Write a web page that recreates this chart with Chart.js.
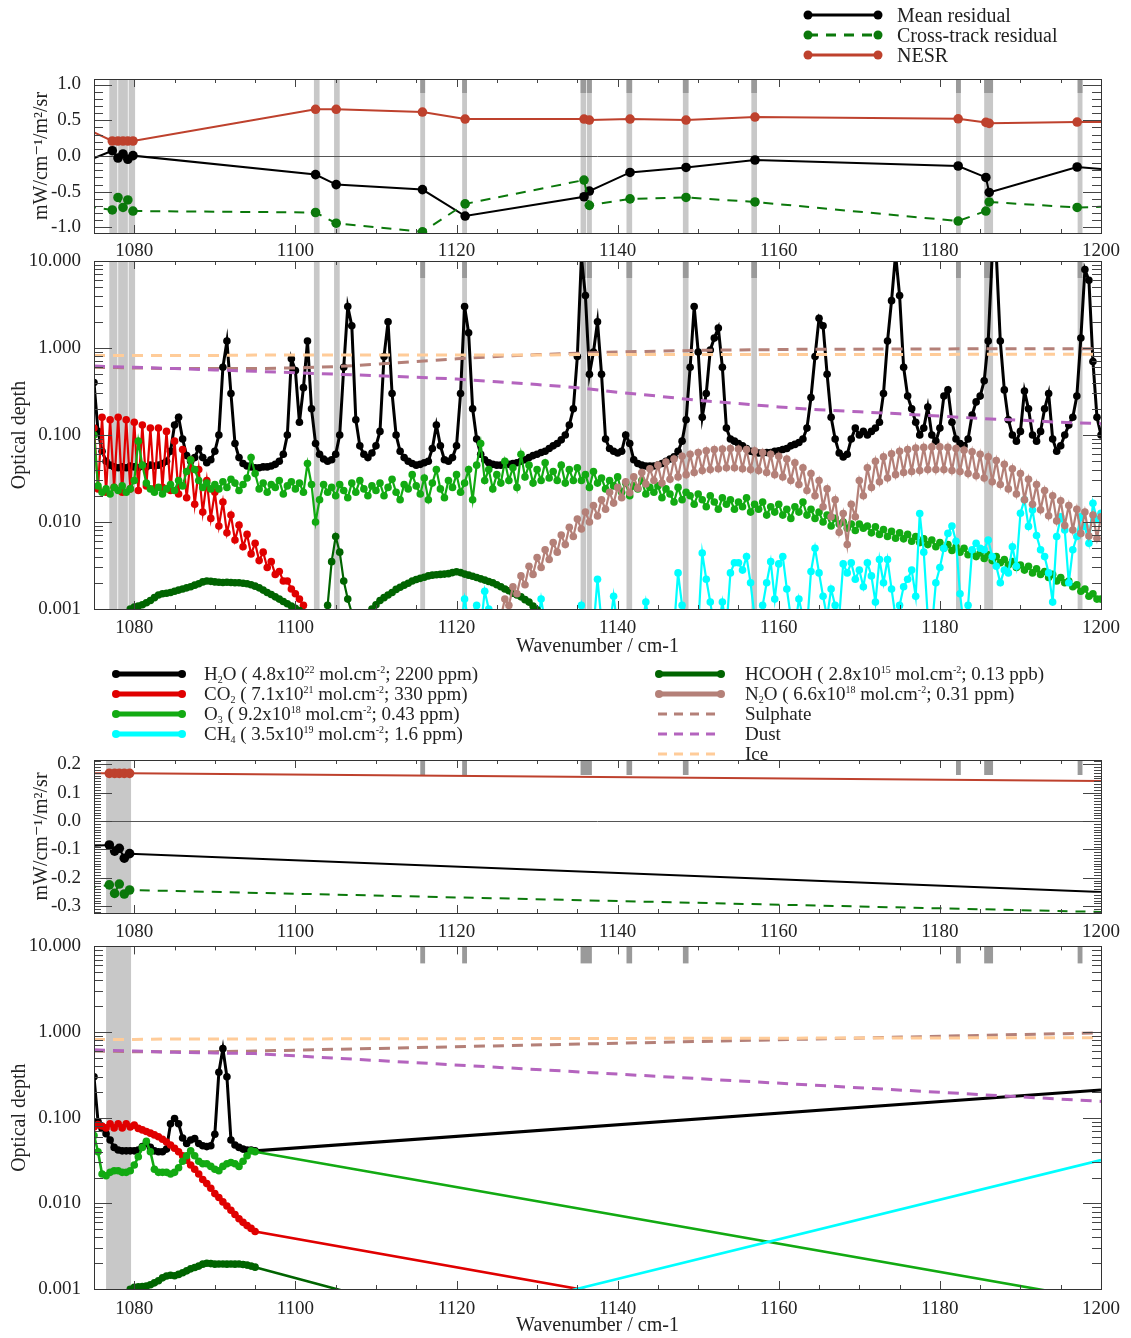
<!DOCTYPE html>
<html>
<head>
<meta charset="utf-8">
<script src="https://cdn.jsdelivr.net/npm/chart.js@4.4.1/dist/chart.umd.min.js"></script>
<style>
  html, body { margin: 0; padding: 0; background: #fff; }
  #page { position: relative; width: 1131px; height: 1338px; overflow: hidden;
          font-family: 'Liberation Serif', 'DejaVu Serif', serif; color: #222; }
  #page canvas { position: absolute; left: 0; }
  svg.keys { position: absolute; left: 0; top: 0; }
  .lg { position: absolute; white-space: nowrap; }
  .lg.big { font-size: 20px; line-height: 22px; }
  .lg.mid { font-size: 19px; line-height: 20px; }
  .lg sub { font-size: 10px; vertical-align: -3px; line-height: 0; }
  .lg sup { font-size: 10px; vertical-align: 7px; line-height: 0; }
</style>
</head>
<body>
<div id="page">
  <canvas id="resHigh" width="1131" height="262" style="top:0px"></canvas>
  <canvas id="odHigh" width="1131" height="420" style="top:240px"></canvas>
  <canvas id="resLow" width="1131" height="210" style="top:740px"></canvas>
  <canvas id="odLow" width="1131" height="408" style="top:930px"></canvas>

  <svg class="keys" width="1131" height="780">
    <!-- residual legend -->
    <line x1="808" y1="15" x2="878" y2="15" stroke="#000" stroke-width="3"/>
    <circle cx="808" cy="15" r="4.5" fill="#000"/><circle cx="878" cy="15" r="4.5" fill="#000"/>
    <line x1="808" y1="35" x2="878" y2="35" stroke="#0b780b" stroke-width="3" stroke-dasharray="10 8"/>
    <circle cx="808" cy="35" r="4.5" fill="#0b780b"/><circle cx="878" cy="35" r="4.5" fill="#0b780b"/>
    <line x1="808" y1="55" x2="878" y2="55" stroke="#be412d" stroke-width="3"/>
    <circle cx="808" cy="55" r="4.5" fill="#be412d"/><circle cx="878" cy="55" r="4.5" fill="#be412d"/>
    <!-- absorber legend -->
    <g stroke-width="5" stroke-linecap="round">
      <line x1="116" y1="674" x2="182" y2="674" stroke="#000"/>
      <line x1="116" y1="694" x2="182" y2="694" stroke="#e00000"/>
      <line x1="116" y1="714" x2="182" y2="714" stroke="#12aa12"/>
      <line x1="116" y1="734" x2="182" y2="734" stroke="#00ffff"/>
      <line x1="659" y1="674" x2="721" y2="674" stroke="#006400"/>
      <line x1="659" y1="694" x2="721" y2="694" stroke="#b48078"/>
    </g>
    <g>
      <circle cx="116" cy="674" r="4" fill="#000"/><circle cx="182" cy="674" r="4" fill="#000"/>
      <circle cx="116" cy="694" r="4" fill="#e00000"/><circle cx="182" cy="694" r="4" fill="#e00000"/>
      <circle cx="116" cy="714" r="4" fill="#12aa12"/><circle cx="182" cy="714" r="4" fill="#12aa12"/>
      <circle cx="116" cy="734" r="4" fill="#00ffff"/><circle cx="182" cy="734" r="4" fill="#00ffff"/>
      <circle cx="659" cy="674" r="4" fill="#006400"/><circle cx="721" cy="674" r="4" fill="#006400"/>
      <circle cx="659" cy="694" r="4" fill="#b48078"/><circle cx="721" cy="694" r="4" fill="#b48078"/>
    </g>
    <g stroke-width="3" stroke-dasharray="9 7">
      <line x1="658" y1="714" x2="722" y2="714" stroke="#b48078"/>
      <line x1="658" y1="734" x2="722" y2="734" stroke="#b464be"/>
      <line x1="658" y1="754" x2="722" y2="754" stroke="#ffcc99"/>
    </g>
  </svg>

  <div class="lg big" style="left:897px;top:4px">Mean residual</div>
  <div class="lg big" style="left:897px;top:24px">Cross-track residual</div>
  <div class="lg big" style="left:897px;top:44px">NESR</div>

  <div class="lg mid" style="left:204px;top:664px">H<sub>2</sub>O ( 4.8x10<sup>22</sup> mol.cm<sup>-2</sup>; 2200 ppm)</div>
  <div class="lg mid" style="left:204px;top:684px">CO<sub>2</sub> ( 7.1x10<sup>21</sup> mol.cm<sup>-2</sup>; 330 ppm)</div>
  <div class="lg mid" style="left:204px;top:704px">O<sub>3</sub> ( 9.2x10<sup>18</sup> mol.cm<sup>-2</sup>; 0.43 ppm)</div>
  <div class="lg mid" style="left:204px;top:724px">CH<sub>4</sub> ( 3.5x10<sup>19</sup> mol.cm<sup>-2</sup>; 1.6 ppm)</div>
  <div class="lg mid" style="left:745px;top:664px">HCOOH ( 2.8x10<sup>15</sup> mol.cm<sup>-2</sup>; 0.13 ppb)</div>
  <div class="lg mid" style="left:745px;top:684px">N<sub>2</sub>O ( 6.6x10<sup>18</sup> mol.cm<sup>-2</sup>; 0.31 ppm)</div>
  <div class="lg mid" style="left:745px;top:704px">Sulphate</div>
  <div class="lg mid" style="left:745px;top:724px">Dust</div>
  <div class="lg mid" style="left:745px;top:744px">Ice</div>
</div>

<script>
// ---------------- axis definitions ----------------
const WN_MIN = 1075, WN_MAX = 1200;
const STEP = 0.5;                       // spectral sampling of the optical-depth series (cm-1)
const X_LABELS = [1080, 1100, 1120, 1140, 1160, 1180, 1200];
const RES_LABELS_HIGH = [-1.0, -0.5, 0.0, 0.5, 1.0];
const RES_LABELS_LOW = [-0.3, -0.2, -0.1, 0.0, 0.1, 0.2];
const DEPTH_LABELS = [0.001, 0.01, 0.1, 1, 10];

// ---------------- residual panel, full channel set ----------------
const resWn = [1074.0, 1077.27, 1077.98, 1078.6, 1079.2, 1079.84, 1102.5, 1105.06, 1115.77, 1121.07,
               1135.83, 1136.49, 1141.54, 1148.49, 1157.05, 1182.27, 1185.71, 1186.12, 1197.04, 1201.0];
const resMean = [-0.076, 0.074, -0.028, 0.028, -0.046, 0.005, -0.26, -0.40, -0.47, -0.84,
                 -0.57, -0.49, -0.23, -0.16, -0.056, -0.14, -0.30, -0.51, -0.154, -0.19];
const resCross = [-0.70, -0.755, -0.58, -0.72, -0.615, -0.77, -0.79, -0.94, -1.06, -0.67,
                  -0.336, -0.69, -0.60, -0.58, -0.643, -0.91, -0.77, -0.643, -0.72, -0.707];
const resNesr = [0.383, 0.21, 0.21, 0.21, 0.21, 0.21, 0.653, 0.653, 0.615, 0.517,
                 0.517, 0.503, 0.517, 0.503, 0.545, 0.52, 0.47, 0.457, 0.475, 0.475];

// ---------------- residual panel, reduced channel set ----------------
const resWnLow = [1074.0, 1076.9, 1077.56, 1078.14, 1078.76, 1079.42, 1201.0];
const resMeanLow = [-0.088, -0.0845, -0.106, -0.096, -0.131, -0.115, -0.251];
const resCrossLow = [-0.237, -0.225, -0.255, -0.222, -0.257, -0.243, -0.321];
const resNesrLow = [0.168, 0.168, 0.168, 0.168, 0.168, 0.168, 0.141];

// ---------------- optical depth, full spectrum (0.5 cm-1 grid) ----------------
const h2oStart = 1075;
const h2o = [
  0.40, 0.11, 0.065, 0.05, 0.045, 0.043, 0.042, 0.043, 0.042, 0.044,
  0.043, 0.042, 0.044, 0.043, 0.045, 0.044, 0.045, 0.047, 0.05, 0.065,
  0.13, 0.16, 0.09, 0.058, 0.05, 0.055, 0.07, 0.055, 0.048, 0.052,
  0.065, 0.10, 0.6, 1.2, 0.30, 0.08, 0.055, 0.047, 0.044, 0.043,
  0.042, 0.042, 0.043, 0.043, 0.044, 0.046, 0.050, 0.060, 0.10, 0.75,
  0.55, 0.14, 0.35, 1.2, 0.20, 0.08, 0.06, 0.053, 0.050, 0.052,
  0.060, 0.10, 0.60, 3.0, 1.8, 0.15, 0.075, 0.060, 0.055, 0.062,
  0.075, 0.11, 0.8, 2.0, 0.3, 0.10, 0.065, 0.055, 0.050, 0.047,
  0.045, 0.046, 0.048, 0.050, 0.070, 0.13, 0.075, 0.052, 0.050, 0.055,
  0.075, 0.30, 3.0, 1.5, 0.20, 0.09, 0.060, 0.052, 0.048, 0.046,
  0.045, 0.045, 0.046, 0.046, 0.047, 0.048, 0.050, 0.052, 0.055, 0.058,
  0.060, 0.063, 0.065, 0.070, 0.075, 0.080, 0.088, 0.10, 0.13, 0.20,
  0.8, 11, 4.0, 0.5, 0.9, 2.0, 0.5, 0.09, 0.07, 0.065,
  0.062, 0.065, 0.10, 0.08, 0.052, 0.047, 0.045, 0.044, 0.044, 0.044,
  0.045, 0.047, 0.050, 0.053, 0.056, 0.065, 0.085, 0.15, 0.6, 3.0,
  0.9, 0.16, 0.3, 0.95, 1.3, 1.7, 0.6, 0.12, 0.09, 0.085,
  0.08, 0.075, 0.07, 0.065, 0.063, 0.062, 0.062, 0.063, 0.063, 0.065,
  0.066, 0.068, 0.070, 0.075, 0.078, 0.082, 0.09, 0.12, 0.27, 0.8,
  2.2, 1.8, 0.5, 0.16, 0.09, 0.062, 0.056, 0.06, 0.09, 0.12,
  0.10, 0.11, 0.10, 0.11, 0.12, 0.14, 0.30, 1.2, 3.5, 12,
  4.0, 0.6, 0.28, 0.2, 0.14, 0.10, 0.12, 0.21, 0.10, 0.085,
  0.12, 0.28, 0.33, 0.14, 0.09, 0.08, 0.075, 0.09, 0.17, 0.24,
  0.28, 0.42, 1.2, 12, 12, 1.2, 0.33, 0.15, 0.10, 0.085,
  0.11, 0.32, 0.20, 0.10, 0.085, 0.11, 0.20, 0.30, 0.09, 0.065,
  0.075, 0.10, 0.13, 0.16, 0.28, 1.3, 8.0, 6.0, 0.7, 0.16,
  0.10
];

const co2Start = 1075;
const co2 = [
  0.12, 0.024, 0.16, 0.022, 0.15, 0.025, 0.16, 0.022, 0.15, 0.024,
  0.14, 0.023, 0.13, 0.026, 0.12, 0.024, 0.12, 0.025, 0.11, 0.023,
  0.085, 0.021, 0.068, 0.019, 0.052, 0.016, 0.040, 0.013, 0.030, 0.011,
  0.022, 0.0090, 0.017, 0.0075, 0.012, 0.0062, 0.0092, 0.0052, 0.0072, 0.0043,
  0.0057, 0.0036, 0.0045, 0.0030, 0.0035, 0.0025, 0.0027, 0.0021, 0.0021, 0.0017,
  0.0015, 0.0013, 0.0011
];

const o3Start = 1075;
const o3 = [
  0.10, 0.026, 0.022, 0.024, 0.021, 0.025, 0.023, 0.026, 0.022, 0.024,
  0.030, 0.085, 0.045, 0.028, 0.024, 0.022, 0.025, 0.021, 0.024, 0.027,
  0.023, 0.030, 0.026, 0.038, 0.052, 0.040, 0.030, 0.025, 0.028, 0.024,
  0.027, 0.024, 0.029, 0.025, 0.031, 0.028, 0.023, 0.027, 0.032, 0.055,
  0.036, 0.024, 0.028, 0.022, 0.027, 0.025, 0.030, 0.021, 0.026, 0.029,
  0.024, 0.028, 0.022, 0.047, 0.027, 0.010, 0.018, 0.027, 0.022, 0.025,
  0.020, 0.027, 0.023, 0.019, 0.028, 0.022, 0.030, 0.024, 0.020, 0.026,
  0.023, 0.028, 0.020, 0.025, 0.031, 0.022, 0.018, 0.027, 0.024, 0.035,
  0.026, 0.021, 0.032, 0.018, 0.028, 0.040, 0.024, 0.019, 0.030, 0.025,
  0.035, 0.022, 0.028, 0.040, 0.018, 0.045, 0.080, 0.030, 0.040, 0.024,
  0.035, 0.028, 0.050, 0.030, 0.042, 0.025, 0.060, 0.033, 0.045, 0.028,
  0.040, 0.030, 0.048, 0.032, 0.038, 0.030, 0.045, 0.028, 0.040, 0.030,
  0.042, 0.030, 0.035, 0.025, 0.038, 0.028, 0.032, 0.024, 0.030, 0.026,
  0.033, 0.022, 0.028, 0.020, 0.026, 0.024, 0.030, 0.021, 0.025, 0.022,
  0.026, 0.019, 0.024, 0.021, 0.017, 0.025, 0.018, 0.022, 0.020, 0.016,
  0.021, 0.018, 0.015, 0.020, 0.017, 0.014, 0.019, 0.016, 0.018, 0.014,
  0.017, 0.015, 0.019, 0.013, 0.016, 0.014, 0.017, 0.012, 0.015, 0.013,
  0.016, 0.012, 0.014, 0.011, 0.015, 0.013, 0.017, 0.012, 0.014, 0.011,
  0.013, 0.010, 0.012, 0.009, 0.011, 0.0095, 0.010, 0.0085, 0.0095, 0.008,
  0.0095, 0.0085, 0.009, 0.0075, 0.0088, 0.0072, 0.0082, 0.0068, 0.0078, 0.0065,
  0.0075, 0.0064, 0.0072, 0.0060, 0.0068, 0.0058, 0.0064, 0.0055, 0.0062, 0.0052,
  0.0058, 0.0050, 0.0055, 0.0047, 0.0052, 0.0045, 0.0050, 0.0042, 0.0046, 0.0040,
  0.0044, 0.0038, 0.0042, 0.0036, 0.0040, 0.0034, 0.0037, 0.0032, 0.0035, 0.0030,
  0.0032, 0.0028, 0.0031, 0.0026, 0.0029, 0.0025, 0.0027, 0.0023, 0.0025, 0.0021,
  0.0023, 0.0020, 0.0021, 0.0018, 0.0019, 0.0016, 0.0017, 0.0014, 0.0015, 0.0013,
  0.0013
];

const ch4Start = 1120;
const ch4 = [
  0.0006, 0.0006, 0.0013, 0.0007, 0.0009, 0.0011, 0.0006, 0.0016, 0.0010, 0.0006,
  0.0006, 0.0006, 0.0006, 0.0006, 0.0006, 0.0006, 0.0006, 0.0006, 0.0006, 0.0006,
  0.0006, 0.0013, 0.0007, 0.0006, 0.0006, 0.0006, 0.0006, 0.0006, 0.0006, 0.0006,
  0.0006, 0.0011, 0.0006, 0.0006, 0.0006, 0.0022, 0.0007, 0.0006, 0.0006, 0.0014,
  0.0006, 0.0006, 0.0006, 0.0006, 0.0006, 0.0006, 0.0006, 0.0012, 0.0006, 0.0006,
  0.0006, 0.0006, 0.0006, 0.0006, 0.0006, 0.0026, 0.0011, 0.0009, 0.0006, 0.0006,
  0.0006, 0.0044, 0.0022, 0.0012, 0.0006, 0.0006, 0.0012, 0.0006, 0.0026, 0.0034,
  0.0034, 0.0028, 0.0040, 0.0020, 0.0008, 0.0006, 0.0011, 0.0020, 0.0035, 0.0013,
  0.0033, 0.0040, 0.0017, 0.0008, 0.0006, 0.0013, 0.0008, 0.0006, 0.0027, 0.0050,
  0.0026, 0.0014, 0.0008, 0.0017, 0.0011, 0.0008, 0.0033, 0.0026, 0.0034, 0.0022,
  0.0028, 0.0018, 0.0034, 0.0024, 0.0012, 0.0037, 0.0020, 0.0037, 0.0017, 0.0008,
  0.0011, 0.0018, 0.0022, 0.0028, 0.0014, 0.0125, 0.0045, 0.0008, 0.0006, 0.0020,
  0.0030, 0.0050, 0.0074, 0.0090, 0.0060, 0.0015, 0.0006, 0.0011, 0.0048, 0.0057,
  0.0050, 0.0048, 0.0062, 0.0040, 0.0031, 0.0020, 0.0028, 0.0026, 0.0052, 0.0031,
  0.0126, 0.0180, 0.0089, 0.0137, 0.0070, 0.0048, 0.0040, 0.0026, 0.0012, 0.0068,
  0.0115, 0.0081, 0.0020, 0.0048, 0.0068, 0.0115, 0.0089, 0.0057, 0.0164, 0.0106,
  0.0126
];

// HCOOH is only above the plotted floor in three separate stretches
const hcoohAStart = 1079.5;
const hcoohA = [
  0.00100,
  0.00105, 0.00108, 0.00112, 0.00118, 0.00125, 0.00135, 0.00145, 0.00150, 0.00152, 0.00155,
  0.00160, 0.00165, 0.00170, 0.00175, 0.00180, 0.00188, 0.00195, 0.00205, 0.00210, 0.00208,
  0.00205, 0.00203, 0.00202, 0.00203, 0.00202, 0.00200, 0.00200, 0.00198, 0.00195, 0.00190,
  0.00183, 0.00175, 0.00165, 0.00155, 0.00147, 0.00138, 0.00130, 0.00122, 0.00115, 0.00108,
  0.00102, 0.00096
];
const hcoohBStart = 1104.0;
const hcoohB = [0.0011, 0.0035, 0.0068, 0.0045, 0.0021, 0.0013, 0.0009];
const hcoohCStart = 1109.5;
const hcoohC = [
  0.00100,
  0.00112, 0.00125, 0.00135, 0.00145, 0.00155, 0.00168, 0.00178, 0.00188, 0.00198, 0.00210,
  0.00218, 0.00225, 0.00232, 0.00240, 0.00245, 0.00248, 0.00250, 0.00252, 0.00255, 0.00262,
  0.00268, 0.00262, 0.00252, 0.00245, 0.00238, 0.00230, 0.00222, 0.00215, 0.00207, 0.00200,
  0.00190, 0.00180, 0.00170, 0.00162, 0.00152, 0.00145, 0.00138, 0.00128, 0.00120, 0.00108,
  0.00098
];

const n2oStart = 1125;
const n2o = [
  0.0009, 0.0008, 0.0013, 0.0011, 0.0018, 0.0015, 0.0024, 0.0019, 0.0031, 0.0025,
  0.0039, 0.0030, 0.0048, 0.0037, 0.0058, 0.0045, 0.0071, 0.0055, 0.0087, 0.0068,
  0.0108, 0.0083, 0.013, 0.0100, 0.0155, 0.0117, 0.018, 0.014, 0.022, 0.0165,
  0.025, 0.019, 0.029, 0.0217, 0.033, 0.0245, 0.037, 0.0273, 0.041, 0.030,
  0.045, 0.028, 0.049, 0.031, 0.053, 0.033, 0.057, 0.035, 0.060, 0.037,
  0.063, 0.039, 0.066, 0.040, 0.068, 0.041, 0.069, 0.042, 0.070, 0.042,
  0.069, 0.041, 0.068, 0.040, 0.066, 0.039, 0.063, 0.037, 0.060, 0.035,
  0.057, 0.033, 0.053, 0.030, 0.048, 0.027, 0.042, 0.023, 0.036, 0.020,
  0.030, 0.015, 0.024, 0.0115, 0.018, 0.0076, 0.0125, 0.0055, 0.016, 0.0115,
  0.030, 0.020, 0.042, 0.025, 0.050, 0.029, 0.056, 0.032, 0.061, 0.035,
  0.065, 0.037, 0.068, 0.038, 0.071, 0.039, 0.072, 0.040, 0.073, 0.040,
  0.073, 0.040, 0.072, 0.039, 0.070, 0.038, 0.067, 0.036, 0.064, 0.034,
  0.060, 0.032, 0.056, 0.029, 0.051, 0.027, 0.046, 0.024, 0.041, 0.021,
  0.036, 0.018, 0.031, 0.016, 0.027, 0.0138, 0.023, 0.0118, 0.020, 0.0103,
  0.0175, 0.0091, 0.0155, 0.0081, 0.014, 0.0074, 0.013, 0.0069, 0.012, 0.0065,
  0.0115
];

// aerosol layers, every 5 cm-1
const aerosolWn = [1075, 1080, 1085, 1090, 1095, 1100, 1105, 1110, 1115, 1120, 1125, 1130, 1135,
                   1140, 1145, 1150, 1155, 1160, 1165, 1170, 1175, 1180, 1185, 1190, 1195, 1200];
const sulphate = [0.60, 0.59, 0.58, 0.58, 0.58, 0.59, 0.61, 0.65, 0.70, 0.75, 0.80, 0.84, 0.87,
                  0.90, 0.92, 0.94, 0.95, 0.96, 0.97, 0.97, 0.975, 0.975, 0.98, 0.98, 0.98, 0.98];
const dust = [0.62, 0.60, 0.58, 0.56, 0.54, 0.52, 0.50, 0.48, 0.46, 0.44, 0.41, 0.38, 0.35,
              0.31, 0.28, 0.25, 0.23, 0.21, 0.195, 0.185, 0.175, 0.165, 0.155, 0.148, 0.14, 0.135];
const ice = [0.82, 0.82, 0.82, 0.82, 0.83, 0.83, 0.83, 0.83, 0.83, 0.83, 0.83, 0.83, 0.84,
             0.84, 0.84, 0.84, 0.84, 0.84, 0.84, 0.84, 0.84, 0.84, 0.85, 0.85, 0.85, 0.85];

// ---------------- optical depth, reduced channel set ----------------
const lowStart = 1075;        // dense part on the 0.5 cm-1 grid, 1075-1095
const lowH2o = [
  0.30, 0.09, 0.075, 0.065, 0.055, 0.045, 0.042, 0.041, 0.041, 0.041,
  0.041, 0.042, 0.046, 0.050, 0.045, 0.041, 0.040, 0.040, 0.043, 0.085,
  0.098, 0.085, 0.058, 0.050, 0.055, 0.057, 0.050, 0.047, 0.046, 0.047,
  0.064, 0.34, 0.64, 0.30, 0.055, 0.048, 0.045, 0.043, 0.042, 0.042,
  0.041
];
const lowCo2 = [
  0.078, 0.083, 0.080, 0.076, 0.085, 0.076, 0.085, 0.076, 0.085, 0.078,
  0.082, 0.075, 0.072, 0.069, 0.066, 0.063, 0.060, 0.056, 0.052, 0.048,
  0.044, 0.040, 0.036, 0.032, 0.028, 0.025, 0.022, 0.019, 0.017, 0.015,
  0.013, 0.0117, 0.0104, 0.0093, 0.0083, 0.0074, 0.0066, 0.0060, 0.0055, 0.0051,
  0.0047
];
const lowO3 = [
  0.062, 0.040, 0.022, 0.021, 0.023, 0.024, 0.024, 0.023, 0.023, 0.024,
  0.028, 0.035, 0.045, 0.053, 0.040, 0.025, 0.023, 0.023, 0.023, 0.022,
  0.023, 0.026, 0.031, 0.036, 0.041, 0.036, 0.031, 0.029, 0.029, 0.027,
  0.025, 0.024, 0.027, 0.029, 0.030, 0.029, 0.027, 0.031, 0.036, 0.041,
  0.040
];
const lowHcoohStart = 1079.5;
const lowHcooh = [
  0.00099,
  0.00105, 0.00106, 0.00107, 0.00108, 0.00112, 0.00118, 0.00125, 0.00135, 0.00142, 0.00145,
  0.00143, 0.00148, 0.00155, 0.00163, 0.00172, 0.00178, 0.00185, 0.00195, 0.00200, 0.00198,
  0.00195, 0.00196, 0.00196, 0.00195, 0.00196, 0.00195, 0.00196, 0.00193, 0.00190, 0.00185,
  0.00180
];
// isolated channels beyond the dense part: [wavenumber, optical depth]
const lowH2oFar = [[1200, 0.21]];
const lowCo2Far = [[1140, 0.00083]];
const lowO3Far = [[1200, 0.00074]];
const lowHcoohFar = [[1110, 0.00075]];
const lowCh4Far = [[1130, 0.00077], [1200, 0.032]];
const lowAerosolWn = [1075, 1080, 1085, 1090, 1095, 1200];
const lowSulphate = [0.60, 0.59, 0.59, 0.59, 0.60, 0.98];
const lowDust = [0.62, 0.60, 0.58, 0.57, 0.56, 0.155];
const lowIce = [0.82, 0.82, 0.83, 0.83, 0.83, 0.86];

// ---------------- flagged channels (grey bands) ----------------
const bandsHigh = [[1076.9, 1077.9], [1078.0, 1079.2], [1079.3, 1080.1], [1102.3, 1103.0], [1104.8, 1105.5],
                   [1115.5, 1116.1], [1120.7, 1121.3], [1135.4, 1136.1], [1136.2, 1136.8], [1141.1, 1141.8],
                   [1148.1, 1148.8], [1156.6, 1157.3], [1182.0, 1182.6], [1185.5, 1186.6], [1197.1, 1197.7]];
const capsHigh = [[1115.5, 1116.1], [1120.7, 1121.3], [1135.4, 1136.1], [1136.2, 1136.8], [1141.1, 1141.8],
                  [1148.1, 1148.8], [1156.6, 1157.3], [1182.0, 1182.6], [1185.5, 1186.6], [1197.1, 1197.7]];
const bandsLow = [[1076.5, 1079.6]];
const capsLow = [[1115.5, 1116.1], [1120.7, 1121.3], [1135.4, 1136.8], [1141.1, 1141.8],
                 [1148.1, 1148.8], [1182.0, 1182.6], [1185.5, 1186.6], [1197.1, 1197.7]];

// ---------------- colours ----------------
const C = {
  h2o: '#000000', co2: '#e00000', o3: '#12aa12', ch4: '#00ffff', hcooh: '#006400', n2o: '#b48078',
  sulphate: '#b48078', dust: '#b464be', ice: '#ffcc99',
  mean: '#000000', cross: '#0b780b', nesr: '#be412d'
};

// ---------------- helpers ----------------
const onGrid = (start, vals) => vals.map((v, i) => ({x: start + i * STEP, y: v}));
const paired = (xs, ys) => xs.map((x, i) => ({x: x, y: ys[i]}));
const farPts = arr => arr.map(p => ({x: p[0], y: p[1]}));
const gap = x => ({x: x, y: null});

const xTicksAll = [];
for (let w = WN_MIN; w <= WN_MAX; w += 5) xTicksAll.push(w);
const resTicksHigh = [];
for (let k = -10; k <= 10; k++) resTicksHigh.push(k / 10);
const resTicksLow = [];
for (let k = -32; k <= 21; k++) resTicksLow.push(k / 100);
const logTicks = [];
for (let e = -3; e < 1; e++) for (let m = 1; m <= 9; m++) logTicks.push(m * Math.pow(10, e));
logTicks.push(10);

const FONT = "'Liberation Serif', 'DejaVu Serif', serif";
Chart.defaults.font.family = FONT;
Chart.defaults.font.size = 19;
Chart.defaults.color = '#222';
Chart.defaults.animation = false;
Chart.defaults.events = [];
Chart.defaults.plugins.legend.display = false;
Chart.defaults.plugins.tooltip.enabled = false;

// grey bands, frame, inward tick marks and zero line
const framePlugin = {
  id: 'frame',
  beforeDatasetsDraw(chart, args, o) {
    const {ctx, chartArea: a} = chart;
    const xs = chart.scales.x, ys = chart.scales.y;
    ctx.save();
    ctx.fillStyle = '#c8c8c8';
    (o.bands || []).forEach(b => {
      const x0 = xs.getPixelForValue(b[0]), x1 = xs.getPixelForValue(b[1]);
      ctx.fillRect(x0, a.top, x1 - x0, a.bottom - a.top);
    });
    ctx.fillStyle = '#9a9a9a';
    (o.caps || []).forEach(b => {
      const x0 = xs.getPixelForValue(b[0]), x1 = xs.getPixelForValue(b[1]);
      ctx.fillRect(x0, a.top, x1 - x0, o.capH);
    });
    if (o.zero) {
      const y0 = Math.round(ys.getPixelForValue(0)) + 0.5;
      ctx.strokeStyle = '#555';
      ctx.lineWidth = 1;
      ctx.beginPath(); ctx.moveTo(a.left, y0); ctx.lineTo(a.right, y0); ctx.stroke();
    }
    ctx.restore();
  },
  afterDatasetsDraw(chart, args, o) {
    const {ctx, chartArea: a} = chart;
    const xs = chart.scales.x, ys = chart.scales.y;
    ctx.save();
    ctx.strokeStyle = '#444';
    ctx.lineWidth = 1;
    ctx.beginPath();
    xTicksAll.forEach(w => {
      const px = Math.round(xs.getPixelForValue(w)) + 0.5;
      const len = X_LABELS.includes(w) ? 8 : 4;
      ctx.moveTo(px, a.bottom); ctx.lineTo(px, a.bottom - len);
      ctx.moveTo(px, a.top); ctx.lineTo(px, a.top + len);
    });
    o.yTicks.forEach(v => {
      if (v < ys.min || v > ys.max) return;
      const py = Math.round(ys.getPixelForValue(v)) + 0.5;
      const major = o.yMajor.some(m => Math.abs(m - v) < 1e-9);
      const len = major ? 18 : o.yMinorLen;
      ctx.moveTo(a.left, py); ctx.lineTo(a.left + len, py);
      ctx.moveTo(a.right, py); ctx.lineTo(a.right - len, py);
    });
    ctx.stroke();
    ctx.strokeStyle = '#333';
    ctx.strokeRect(Math.round(a.left) + 0.5, Math.round(a.top) + 0.5,
                   Math.round(a.right - a.left), Math.round(a.bottom - a.top));
    ctx.restore();
  }
};
Chart.register(framePlugin);

function xAxis(height, pad, titlePad) {
  return {
    type: 'linear', min: WN_MIN, max: WN_MAX,
    grid: {display: false}, border: {display: false},
    afterBuildTicks: s => { s.ticks = X_LABELS.map(v => ({value: v})); },
    ticks: {padding: pad, maxRotation: 0, autoSkip: false, callback: v => String(v)},
    title: titlePad === null ? {display: false}
         : {display: true, text: 'Wavenumber / cm-1', font: {size: 20}, padding: {top: 0, bottom: titlePad}},
    afterFit: s => { s.height = height; }
  };
}
function yResidual(min, max, labels) {
  return {
    type: 'linear', min: min, max: max,
    grid: {display: false}, border: {display: false},
    afterBuildTicks: s => { s.ticks = labels.map(v => ({value: v})); },
    ticks: {padding: 5, callback: v => Number(v).toFixed(1)},
    title: {display: true, text: 'mW/cm\u207B\u00B9/m\u00B2/sr', font: {size: 20}, padding: {top: 30, bottom: 0}},
    afterFit: s => { s.width = 94; }
  };
}
function yDepth() {
  return {
    type: 'logarithmic', min: 0.001, max: 10,
    grid: {display: false}, border: {display: false},
    afterBuildTicks: s => { s.ticks = DEPTH_LABELS.map(v => ({value: v})); },
    ticks: {padding: 5, callback: v => Number(v).toFixed(3)},
    title: {display: true, text: 'Optical depth', font: {size: 20}, padding: {top: 8, bottom: 0}},
    afterFit: s => { s.width = 94; }
  };
}

function markerLine(label, data, color, opts) {
  return Object.assign({
    label: label, data: data, borderColor: color, backgroundColor: color,
    pointBackgroundColor: color, pointBorderWidth: 0, borderWidth: 2.2,
    pointRadius: 3.8, tension: 0, clip: 0, spanGaps: false
  }, opts || {});
}
function dashLine(label, data, color, order) {
  return {label: label, data: data, borderColor: color, borderWidth: 3, borderDash: [11, 8],
          pointRadius: 0, tension: 0, clip: 0, order: order};
}
const edgeRadius = r => c => (c.raw && (c.raw.x < WN_MIN || c.raw.x > WN_MAX)) ? 0 : r;
const lowRadius = c => (c.raw && c.raw.x > 1095.2) ? 0 : 3.8;

// ---------------- panel 1: residuals, full channel set ----------------
new Chart(document.getElementById('resHigh'), {
  type: 'line',
  data: { datasets: [
    markerLine('Mean residual', paired(resWn, resMean), C.mean, {borderWidth: 2, pointRadius: edgeRadius(4.8), order: 3}),
    markerLine('Cross-track residual', paired(resWn, resCross), C.cross,
               {borderWidth: 2, pointRadius: edgeRadius(4.8), borderDash: [10, 8], order: 2}),
    markerLine('NESR', paired(resWn, resNesr), C.nesr, {borderWidth: 2, pointRadius: edgeRadius(4.8), order: 1})
  ]},
  options: {
    responsive: false, devicePixelRatio: 1,
    layout: {padding: {left: 0, right: 30, top: 79, bottom: 0}},
    scales: { x: xAxis(29, -1, null), y: yResidual(-1.077, 1.077, RES_LABELS_HIGH) },
    plugins: { frame: {bands: bandsHigh, caps: capsHigh, capH: 14, zero: true,
                       yTicks: resTicksHigh, yMajor: RES_LABELS_HIGH, yMinorLen: 9} }
  }
});

// ---------------- panel 2: optical depths, full spectrum ----------------
const hcoohAll = [].concat(onGrid(hcoohAStart, hcoohA), [gap(1102)],
                           onGrid(hcoohBStart, hcoohB), [gap(1108)],
                           onGrid(hcoohCStart, hcoohC));
new Chart(document.getElementById('odHigh'), {
  type: 'line',
  data: { datasets: [
    markerLine('H2O', onGrid(h2oStart, h2o), C.h2o, {borderWidth: 3, order: 9}),
    markerLine('CO2', onGrid(co2Start, co2), C.co2, {order: 8}),
    markerLine('O3', onGrid(o3Start, o3), C.o3, {order: 7}),
    markerLine('CH4', onGrid(ch4Start, ch4), C.ch4, {order: 6}),
    markerLine('HCOOH', hcoohAll, C.hcooh, {order: 5}),
    markerLine('N2O', onGrid(n2oStart, n2o), C.n2o, {order: 4}),
    dashLine('Sulphate', paired(aerosolWn, sulphate), C.sulphate, 3),
    dashLine('Dust', paired(aerosolWn, dust), C.dust, 2),
    dashLine('Ice', paired(aerosolWn, ice), C.ice, 1)
  ]},
  options: {
    responsive: false, devicePixelRatio: 1,
    layout: {padding: {left: 0, right: 30, top: 21, bottom: 0}},
    scales: { x: xAxis(51, 0, 1), y: yDepth() },
    plugins: { frame: {bands: bandsHigh, caps: capsHigh, capH: 17, zero: false,
                       yTicks: logTicks, yMajor: DEPTH_LABELS, yMinorLen: 9} }
  }
});

// ---------------- panel 3: residuals, reduced channel set ----------------
new Chart(document.getElementById('resLow'), {
  type: 'line',
  data: { datasets: [
    markerLine('Mean residual', paired(resWnLow, resMeanLow), C.mean, {borderWidth: 2, pointRadius: edgeRadius(4.8), order: 3}),
    markerLine('Cross-track residual', paired(resWnLow, resCrossLow), C.cross,
               {borderWidth: 2, pointRadius: edgeRadius(4.8), borderDash: [10, 8], order: 2}),
    markerLine('NESR', paired(resWnLow, resNesrLow), C.nesr, {borderWidth: 2, pointRadius: edgeRadius(4.8), order: 1})
  ]},
  options: {
    responsive: false, devicePixelRatio: 1,
    layout: {padding: {left: 0, right: 30, top: 20, bottom: 0}},
    scales: { x: xAxis(37, 0, null), y: yResidual(-0.324, 0.215, RES_LABELS_LOW) },
    plugins: { frame: {bands: bandsLow, caps: capsLow, capH: 15, zero: true,
                       yTicks: resTicksLow, yMajor: RES_LABELS_LOW, yMinorLen: 7} }
  }
});

// ---------------- panel 4: optical depths, reduced channel set ----------------
new Chart(document.getElementById('odLow'), {
  type: 'line',
  data: { datasets: [
    markerLine('H2O', onGrid(lowStart, lowH2o).concat(farPts(lowH2oFar)), C.h2o,
               {borderWidth: 3, pointRadius: lowRadius, order: 9}),
    markerLine('CO2', onGrid(lowStart, lowCo2).concat(farPts(lowCo2Far)), C.co2, {borderWidth: 2.6, pointRadius: lowRadius, order: 8}),
    markerLine('O3', onGrid(lowStart, lowO3).concat(farPts(lowO3Far)), C.o3, {borderWidth: 2.6, pointRadius: lowRadius, order: 7}),
    markerLine('CH4', farPts(lowCh4Far), C.ch4, {borderWidth: 2.6, pointRadius: 0, order: 6}),
    markerLine('HCOOH', onGrid(lowHcoohStart, lowHcooh).concat(farPts(lowHcoohFar)), C.hcooh,
               {borderWidth: 2.6, pointRadius: lowRadius, order: 5}),
    dashLine('Sulphate', paired(lowAerosolWn, lowSulphate), C.sulphate, 3),
    dashLine('Dust', paired(lowAerosolWn, lowDust), C.dust, 2),
    dashLine('Ice', paired(lowAerosolWn, lowIce), C.ice, 1)
  ]},
  options: {
    responsive: false, devicePixelRatio: 1,
    layout: {padding: {left: 0, right: 30, top: 11, bottom: 0}},
    scales: { x: xAxis(49, 1, 0), y: yDepth() },
    plugins: { frame: {bands: bandsLow, caps: capsLow, capH: 17, zero: false,
                       yTicks: logTicks, yMajor: DEPTH_LABELS, yMinorLen: 9} }
  }
});
</script>
</body>
</html>
